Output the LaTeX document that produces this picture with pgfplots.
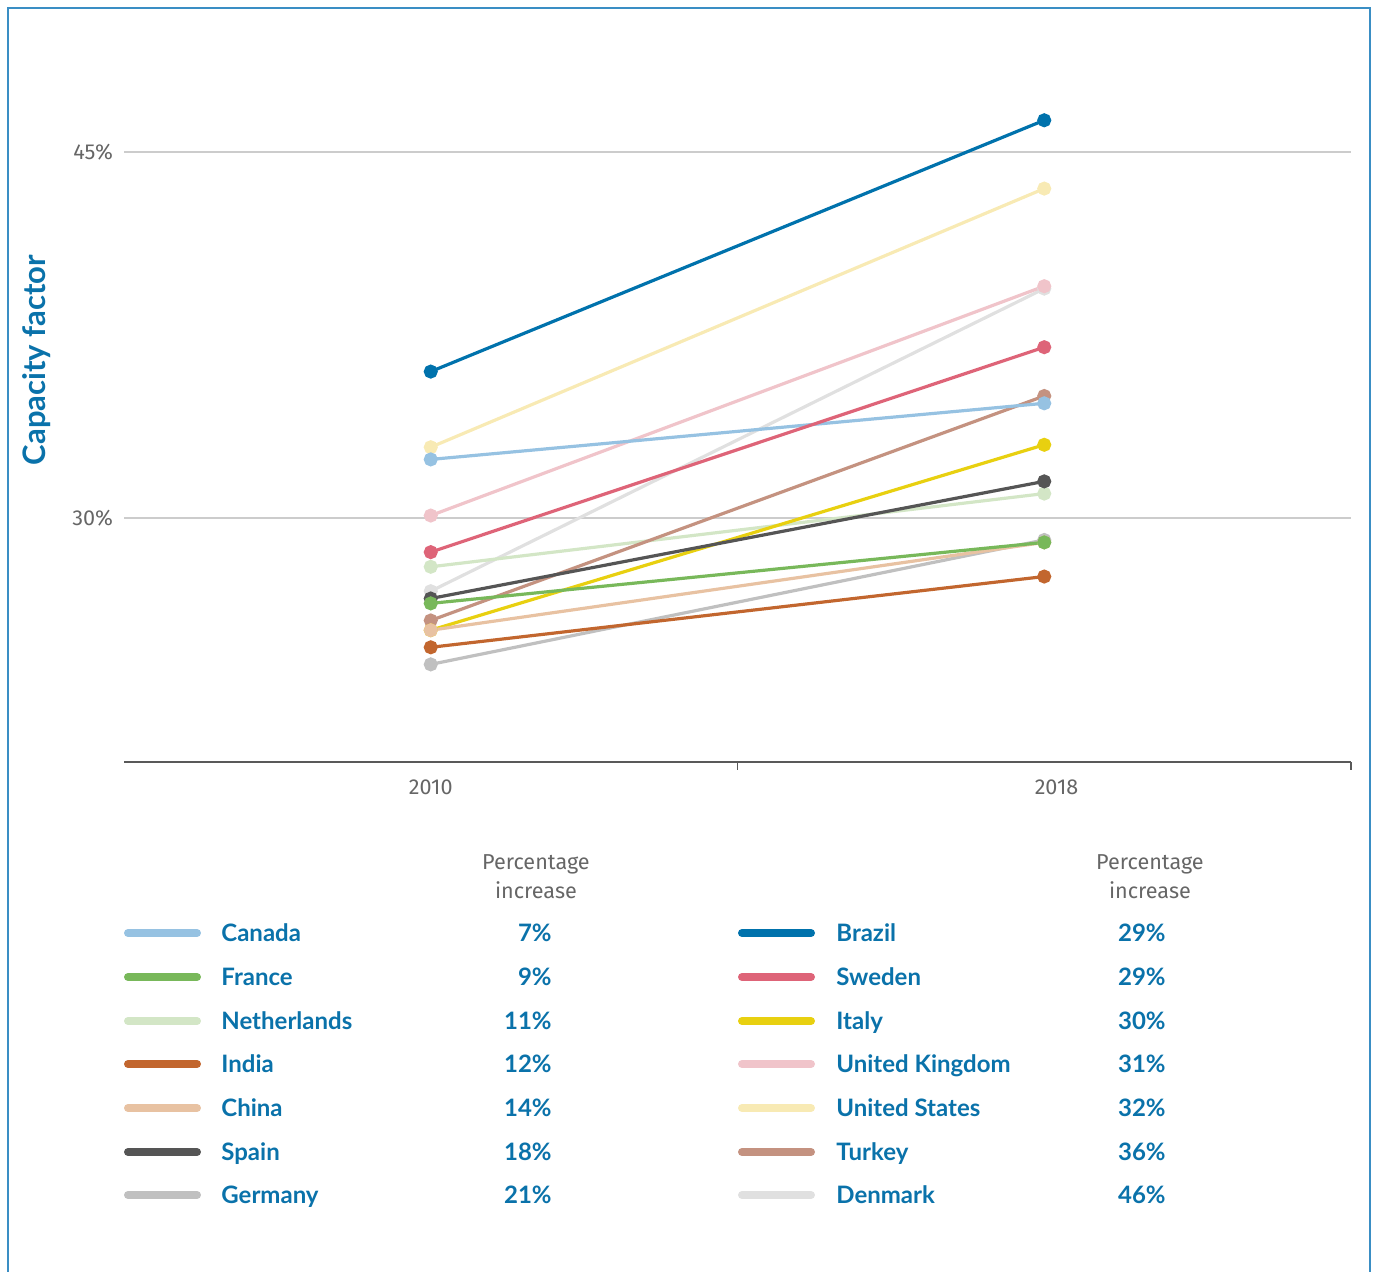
\documentclass[border=0pt]{standalone}
\usepackage{fontspec}
\setmainfont{Fira Sans}
\newfontfamily\lato{Lato}
\usepackage{pgfplots}
\pgfplotsset{compat=1.18}
\definecolor{cBrazil}{HTML}{0072AC}
\definecolor{cSweden}{HTML}{DE6478}
\definecolor{cItaly}{HTML}{E8D010}
\definecolor{cUK}{HTML}{F0C4CA}
\definecolor{cUS}{HTML}{F8EAB4}
\definecolor{cTurkey}{HTML}{C49280}
\definecolor{cDenmark}{HTML}{E0E0E0}
\definecolor{cCanada}{HTML}{96C2E2}
\definecolor{cFrance}{HTML}{78B85A}
\definecolor{cNetherlands}{HTML}{D3E6C6}
\definecolor{cIndia}{HTML}{C2662E}
\definecolor{cChina}{HTML}{E8C2A2}
\definecolor{cSpain}{HTML}{555555}
\definecolor{cGermany}{HTML}{C0C0C0}
\definecolor{txtblue}{HTML}{0A72AA}
\definecolor{frameblue}{HTML}{3A8EC4}
\definecolor{ticktxt}{HTML}{666666}
\begin{document}
\begin{tikzpicture}[x=0.5pt,y=0.5pt]
\useasboundingbox (0,0) rectangle (1378,1272);
\draw[frameblue, line width=1pt] (8,-5) -- (8,1264) -- (1370,1264) -- (1370,-5);
\begin{axis}[
  at={(62pt,255pt)}, anchor=south west,
  scale only axis, width=613.5pt, height=366pt,
  xmin=-0.5, xmax=1.5, ymin=20, ymax=50,
  axis lines*=left,
  y axis line style={draw=none},
  x axis line style={draw=black!65, line width=0.7pt},
  xtick={0,1.02}, xticklabels={2010,2018},
  ytick={30,45}, yticklabels={30\%,45\%},
  major tick length=0pt,
  extra x ticks={0.5,1.5}, extra x tick labels={},
  extra x tick style={major tick length=4pt, tick align=outside, tick style={draw=black!65, line width=0.6pt}},
  ymajorgrids, grid style={black!20, line width=0.6pt},
  tick label style={font=\fontsize{10.8}{12}\selectfont, text=ticktxt},
  yticklabel style={xshift=-2pt},
  xticklabel style={yshift=-5.5pt},
  clip=false,
  every axis plot/.append style={line width=1.6pt, mark=*, mark size=2.7pt},
]
\addplot[cDenmark, mark options={fill=cDenmark}] coordinates {(0,27.0) (1,39.4)};
\addplot[cUS, mark options={fill=cUS}] coordinates {(0,32.9) (1,43.5)};
\addplot[cUK, mark options={fill=cUK}] coordinates {(0,30.1) (1,39.5)};
\addplot[cNetherlands, mark options={fill=cNetherlands}] coordinates {(0,28.0) (1,31.0)};
\addplot[cGermany, mark options={fill=cGermany}] coordinates {(0,24.0) (1,29.1)};
\addplot[cTurkey, mark options={fill=cTurkey}] coordinates {(0,25.8) (1,35.0)};
\addplot[cCanada, mark options={fill=cCanada}] coordinates {(0,32.4) (1,34.7)};
\addplot[cItaly, mark options={fill=cItaly}] coordinates {(0,25.4) (1,33.0)};
\addplot[cChina, mark options={fill=cChina}] coordinates {(0,25.4) (1,29.0)};
\addplot[cSweden, mark options={fill=cSweden}] coordinates {(0,28.6) (1,37.0)};
\addplot[cIndia, mark options={fill=cIndia}] coordinates {(0,24.7) (1,27.6)};
\addplot[cSpain, mark options={fill=cSpain}] coordinates {(0,26.7) (1,31.5)};
\addplot[cFrance, mark options={fill=cFrance}] coordinates {(0,26.5) (1,29.0)};
\addplot[cBrazil, mark options={fill=cBrazil}] coordinates {(0,36.0) (1,46.3)};
\end{axis}
\node[rotate=90, text=txtblue, font=\lato\bfseries\fontsize{15.5}{17}\selectfont] at (37,912) {Capacity factor};
% headers
\foreach \hx in {536,1150}{
  \node[text=ticktxt, font=\fontsize{10.8}{12}\selectfont] at (\hx,408) {Percentage};
  \node[text=ticktxt, font=\fontsize{10.8}{12}\selectfont] at (\hx,382) {increase};
}
% legend
\foreach \yy/\c/\n/\p in {339/cCanada/Canada/7, 295/cFrance/France/9, 251/cNetherlands/Netherlands/11, 208/cIndia/India/12, 164/cChina/China/14, 120/cSpain/Spain/18, 77/cGermany/Germany/21}{
  \draw[\c, line width=4pt, line cap=round] (128,\yy) -- (197,\yy);
  \node[anchor=mid west, text=txtblue, font=\lato\bfseries\fontsize{12}{13}\selectfont, inner sep=0pt] at (221,\yy-3) {\n};
  \node[anchor=mid east, text=txtblue, font=\lato\bfseries\fontsize{12}{13}\selectfont, inner sep=0pt] at (552,\yy-3) {\p\%};
}
\foreach \yy/\c/\n/\p in {339/cBrazil/Brazil/29, 295/cSweden/Sweden/29, 251/cItaly/Italy/30, 208/cUK/United Kingdom/31, 164/cUS/United States/32, 120/cTurkey/Turkey/36, 77/cDenmark/Denmark/46}{
  \draw[\c, line width=4pt, line cap=round] (742,\yy) -- (811,\yy);
  \node[anchor=mid west, text=txtblue, font=\lato\bfseries\fontsize{12}{13}\selectfont, inner sep=0pt] at (836,\yy-3) {\n};
  \node[anchor=mid east, text=txtblue, font=\lato\bfseries\fontsize{12}{13}\selectfont, inner sep=0pt] at (1166,\yy-3) {\p\%};
}
\end{tikzpicture}
\end{document}
